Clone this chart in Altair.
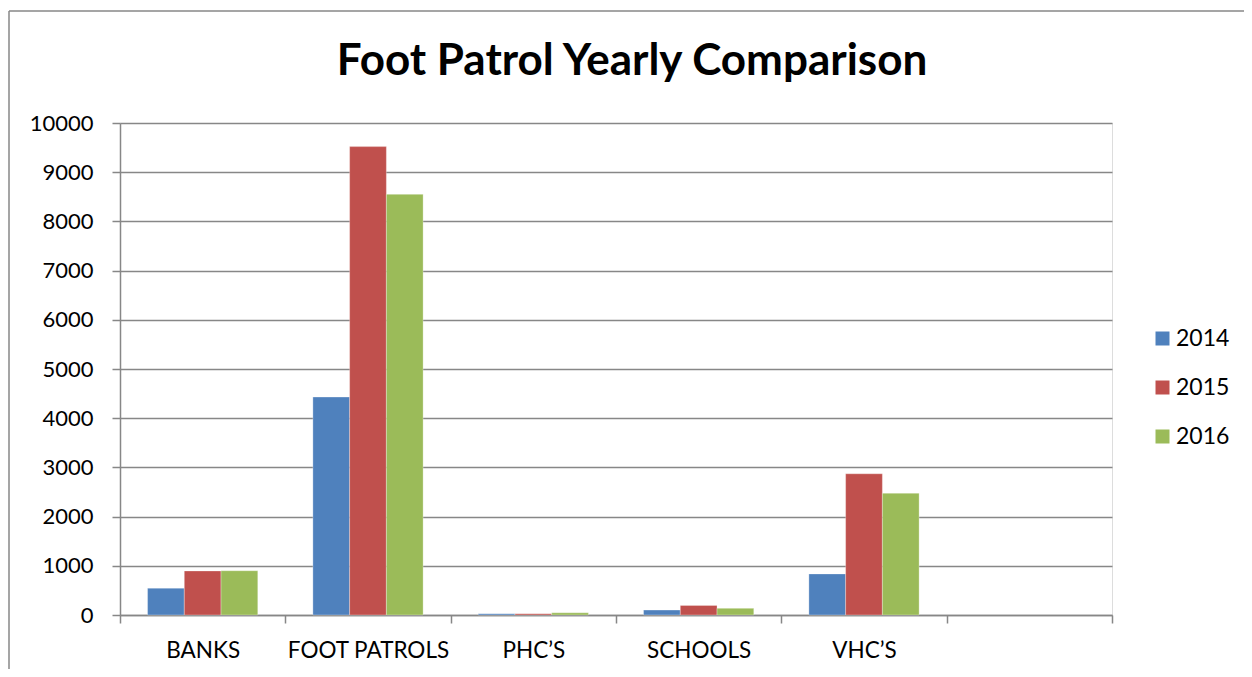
import altair as alt
import pandas as pd

categories = ["BANKS", "FOOT PATROLS", "PHC’S", "SCHOOLS", "VHC’S"]
slots = categories + [""]
years = ["2014", "2015", "2016"]
v2014 = [545, 4430, 25, 100, 835]
v2015 = [895, 9520, 25, 195, 2870]
v2016 = [900, 8550, 45, 135, 2475]
colors = ["#4F81BD", "#C0504D", "#9BBB59"]
y_ticks = list(range(0, 10001, 1000))

rows = []
for yr, vals in zip(years, [v2014, v2015, v2016]):
    for c, v in zip(categories, vals):
        rows.append({"category": c, "year": yr, "value": v})
df = pd.DataFrame(rows)

FONT = "Lato"
GRAY = "#878787"

bars = alt.Chart(df).mark_bar(stroke="white", strokeWidth=0.6, strokeOpacity=0.5).encode(
    x=alt.X(
        "category:N",
        sort=slots,
        scale=alt.Scale(domain=slots, paddingInner=0, paddingOuter=0),
        axis=alt.Axis(
            title=None, labelAngle=0, tickBand="extent", tickSize=8, tickWidth=1.5,
            tickColor=GRAY, domainColor=GRAY, domainWidth=1.5, labelFont=FONT,
            labelFontSize=22.5, labelColor="black", labelPadding=16, grid=False,
        ),
    ),
    xOffset=alt.XOffset("year:N", scale=alt.Scale(domain=years, paddingInner=0, paddingOuter=0.75)),
    y=alt.Y(
        "value:Q",
        scale=alt.Scale(domain=[0, 10000], nice=False),
        axis=alt.Axis(
            title=None, values=y_ticks, format="d", tickSize=8, tickWidth=1.5, tickColor=GRAY,
            domainColor=GRAY, domainWidth=1.5, gridColor=GRAY, gridWidth=1.5,
            labelFont=FONT, labelFontSize=22, labelColor="black", labelPadding=19,
        ),
    ),
    color=alt.Color(
        "year:N",
        scale=alt.Scale(domain=years, range=colors),
        legend=alt.Legend(
            title=None, orient="none", legendX=1031, legendY=204, symbolType="square",
            symbolSize=196, symbolStrokeWidth=0, labelFont=FONT, labelFontSize=23,
            labelColor="black", labelOffset=2, rowPadding=25, padding=0,
        ),
    ),
)

frame = alt.Chart(alt.Data(values=[{}])).mark_rule(color=GRAY, strokeWidth=1.5).encode(
    x=alt.value(-111), y=alt.value(-112), y2=alt.value(560)
)
frame_top = alt.Chart(alt.Data(values=[{}])).mark_rule(color=GRAY, strokeWidth=1.5).encode(
    x=alt.value(-111), x2=alt.value(1140), y=alt.value(-112)
)

chart = alt.layer(bars, frame, frame_top).properties(
    width=992,
    height=492,
    autosize=alt.AutoSizeParams(type="none"),
    padding={"left": 112, "top": 115, "right": 132, "bottom": 54},
    title=alt.TitleParams(
        "Foot Patrol Yearly Comparison", font=FONT, fontSize=44, fontWeight="bold",
        color="black", anchor="middle", frame="group", dx=16, offset=-74,
    ),
).configure_view(stroke=None).configure(background="white")

chart.save("out.html", embed_options={"renderer": "svg", "actions": False})
